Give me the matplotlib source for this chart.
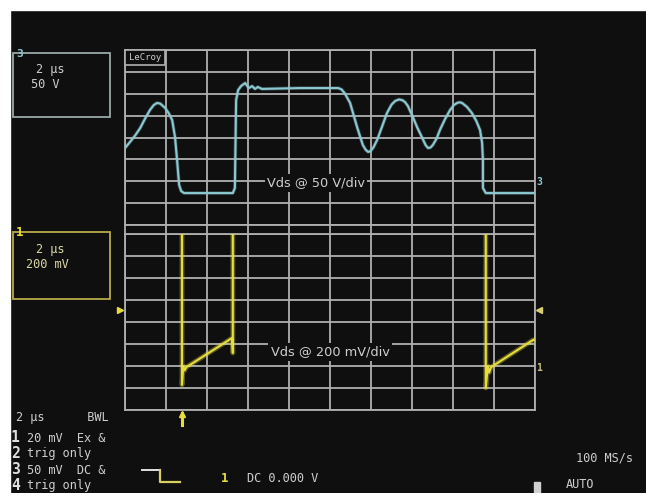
import matplotlib
matplotlib.use("Agg")
import matplotlib.pyplot as plt
from matplotlib.patches import Rectangle

# ---------------- data (grid divisions) ----------------
# Upper trace: Vds @ 50 V/div (x: 0..10 div, y: 0..8 div)
upper_x = [0.00, 0.12, 0.25, 0.37, 0.50, 0.61, 0.70, 0.78, 0.86, 0.98, 1.07, 1.15, 1.22,
           1.27, 1.32, 1.37, 1.44,
           2.63, 2.68, 2.71, 2.76, 2.83, 2.93, 3.02, 3.10, 3.17, 3.24, 3.34, 4.27,
           5.20, 5.28, 5.36, 5.49, 5.66, 5.80, 5.87, 5.93, 5.99, 6.06, 6.15, 6.27, 6.39,
           6.50, 6.59, 6.68, 6.76, 6.83, 6.90, 7.02, 7.13, 7.24, 7.33, 7.39, 7.45, 7.51,
           7.60, 7.68, 7.80, 7.93, 8.02, 8.10, 8.16, 8.22, 8.34, 8.46, 8.57, 8.66, 8.71,
           8.73, 8.73, 8.80, 10.00]
upper_y = [3.52, 3.79, 4.10, 4.43, 4.90, 5.26, 5.48, 5.58, 5.55, 5.35, 5.10, 4.80, 4.02,
           2.97, 1.83, 1.55, 1.46,
           1.46, 1.69, 5.71, 6.17, 6.35, 6.49, 6.26, 6.35, 6.22, 6.31, 6.22, 6.26,
           6.26, 6.20, 6.02, 5.58, 4.48, 3.66, 3.44, 3.34, 3.38, 3.55, 3.89, 4.50, 5.12,
           5.50, 5.67, 5.74, 5.71, 5.62, 5.44, 4.94, 4.45, 4.02, 3.66, 3.52, 3.54, 3.66,
           3.95, 4.34, 4.82, 5.26, 5.48, 5.58, 5.61, 5.58, 5.40, 5.12, 4.75, 4.34, 3.75,
           2.97, 1.69, 1.46, 1.46]

# Lower trace: Vds @ 200 mV/div, two visible switching events
lower1_x = [1.39, 1.39, 1.42, 1.45, 1.50, 2.61, 2.63, 2.63]
lower1_y = [8.00, 1.14, 2.00, 1.80, 1.95, 3.27, 2.59, 8.00]
lower2_x = [8.80, 8.80, 8.85, 8.88, 8.93, 9.95, 10.00]
lower2_y = [8.00, 1.00, 2.00, 1.70, 1.95, 3.18, 3.20]

upper_label = "Vds @ 50 V/div"
lower_label = "Vds @ 200 mV/div"
status_rows = ["2 \u00b5s      BWL", "20 mV  Ex &", "trig only", "50 mV  DC &", "trig only"]
channel_ids = ["1", "2", "3", "4"]

# ---------------- styles ----------------
BG = "#0f0f0f"
GRID = "#b0b0b0"
CYAN = "#8cc8d0"
YEL = "#e6dc3c"
TXT = "#cfcfcf"
MONO = "DejaVu Sans Mono"
FS = 8.6

W, H = 646, 493
fig = plt.figure(figsize=(W / 100, H / 100), dpi=100, facecolor=BG)


def grid_axes(top_px, bot_px):
    ax = fig.add_axes([125 / W, 1 - bot_px / H, 410 / W, (bot_px - top_px) / H])
    ax.set_facecolor(BG)
    ax.set_xlim(0, 10)
    ax.set_ylim(0, 8)
    ax.set_xticks(range(11))
    ax.set_yticks(range(9))
    ax.grid(True, color=GRID, lw=1.3)
    ax.tick_params(length=0, labelbottom=False, labelleft=False)
    for s in ax.spines.values():
        s.set_color(GRID)
        s.set_linewidth(1.3)
    return ax


ax_up = grid_axes(50, 225)
ax_lo = grid_axes(234, 410)

ax_up.plot(upper_x, upper_y, color=CYAN, lw=2.6, alpha=0.3, zorder=3, solid_joinstyle="round")
ax_up.plot(upper_x, upper_y, color=CYAN, lw=1.5, zorder=3, solid_joinstyle="round")

for xs, ys in [(lower1_x, lower1_y), (lower2_x, lower2_y)]:
    ax_lo.plot(xs, ys, color=YEL, lw=3.5, alpha=0.35, zorder=3)
    ax_lo.plot(xs, ys, color=YEL, lw=1.5, zorder=4)

# ---------------- overlay in pixel coordinates ----------------
ov = fig.add_axes([0, 0, 1, 1], zorder=10)
ov.set_xlim(0, W)
ov.set_ylim(H, 0)
ov.axis("off")
ov.patch.set_alpha(0)

# white margins of the screenshot
ov.add_patch(Rectangle((0, 0), W, 10, color="white", zorder=20))
ov.add_patch(Rectangle((0, 0), 10, H, color="white", zorder=20))

# vertical grid lines continuing through the gap between the two grids
for i in range(11):
    xp = 125 + 41 * i
    ov.plot([xp, xp], [225, 234], color=GRID, lw=1.3)

# channel boxes
ov.add_patch(Rectangle((13, 53), 97, 64, fill=False, ec="#9aa8a8", lw=1.3))
ov.text(20, 54, "3", color=CYAN, fontsize=8, family=MONO, fontweight="bold", va="center", ha="center")
ov.text(50, 70, "2 \u00b5s", color=TXT, fontsize=FS, family=MONO, va="center", ha="center")
ov.text(45, 85, "50 V", color=TXT, fontsize=FS, family=MONO, va="center", ha="center")

ov.add_patch(Rectangle((13, 232), 97, 67, fill=False, ec="#b8aa48", lw=1.3))
ov.text(20, 233, "1", color=YEL, fontsize=9, family=MONO, fontweight="bold", va="center", ha="center")
ov.text(50, 250, "2 \u00b5s", color="#dcd8a8", fontsize=FS, family=MONO, va="center", ha="center")
ov.text(47, 265, "200 mV", color="#dcd8a8", fontsize=FS, family=MONO, va="center", ha="center")

# LeCroy tag
ov.add_patch(Rectangle((125, 50), 40, 15, facecolor=BG, ec=GRID, lw=1.2))
ov.text(145, 58, "LeCroy", color=TXT, fontsize=6.5, family=MONO, va="center", ha="center")

# trace labels
ov.text(316, 183, upper_label, color=TXT, fontsize=9.3, va="center", ha="center",
        bbox=dict(facecolor=BG, edgecolor="none", pad=1.5))
ov.text(330, 352, lower_label, color=TXT, fontsize=9.3, va="center", ha="center",
        bbox=dict(facecolor=BG, edgecolor="none", pad=1.5))

# side markers
ov.plot([120], [310], marker=">", color=YEL, ms=4)
ov.plot([539], [310], marker="<", color="#d8d070", ms=4)
ov.text(539, 368, "1", color="#c8c070", fontsize=7, family=MONO, fontweight="bold", va="center", ha="center")
ov.text(539, 182, "3", color=CYAN, fontsize=7, family=MONO, fontweight="bold", va="center", ha="center")

# trigger position marker
ov.plot([182, 182], [413, 425], color=YEL, lw=2.2)
ov.plot([182], [414], marker="^", color=YEL, ms=5)

# status text
ov.text(16, 418, status_rows[0], color=TXT, fontsize=FS, family=MONO, va="center")
row_y = [438, 454, 470, 486]
for cid, row, yy in zip(channel_ids, status_rows[1:], row_y):
    ov.text(11, yy, cid, color="#e0e0e0", fontsize=10.5, family=MONO, fontweight="bold", va="center")
    ov.text(27, yy, row, color=TXT, fontsize=FS, family=MONO, va="center")

# trigger slope symbol
ov.plot([142, 160], [470, 470], color="#e0e0e0", lw=1.4)
ov.plot([160, 160, 180], [470, 482, 482], color="#d8d060", lw=1.6)
ov.text(225, 478, "1", color=YEL, fontsize=9, family=MONO, fontweight="bold", va="center", ha="center")
ov.text(247, 478, "DC 0.000 V", color=TXT, fontsize=FS, family=MONO, va="center")

ov.text(576, 458, "100 MS/s", color=TXT, fontsize=FS, family=MONO, va="center")
ov.add_patch(Rectangle((534, 482), 6, 11, color="#d0d0d0"))
ov.text(566, 485, "AUTO", color=TXT, fontsize=FS, family=MONO, va="center")

fig.savefig("out.png", dpi=100, facecolor=BG)
